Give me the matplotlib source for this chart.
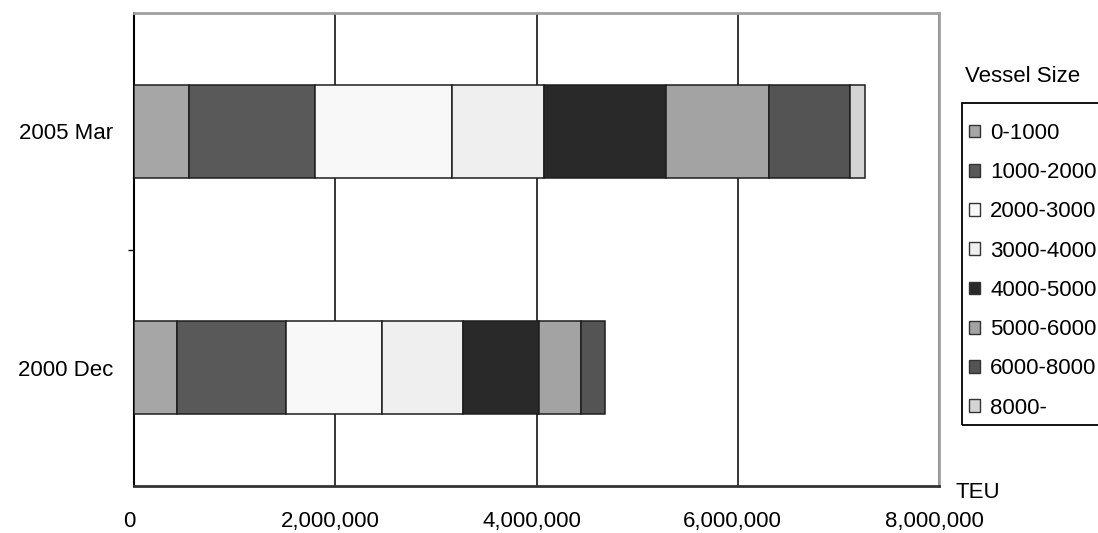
import numpy as np
import matplotlib
matplotlib.use("Agg")
import matplotlib.pyplot as plt
from matplotlib.patches import Patch, Rectangle
from matplotlib.transforms import ScaledTranslation

# TEU capacity by vessel size band
periods = ["2000 Dec", "2005 Mar"]
sizes = ["0-1000", "1000-2000", "2000-3000", "3000-4000",
         "4000-5000", "5000-6000", "6000-8000", "8000-"]
teu_2000 = [429000, 1084000, 954000, 805000, 749000, 417000, 242000, 0]
teu_2005 = [542000, 1259000, 1362000, 911000, 1209000, 1027000, 805000, 149000]
colors = ["#a6a6a6", "#595959", "#f8f8f8", "#efefef",
          "#292929", "#a3a3a3", "#545454", "#d4d4d4"]

plt.rcParams['font.family'] = ['Liberation Sans', 'DejaVu Sans']
FS = 16

W, H = 1098, 533
fig = plt.figure(figsize=(W / 100, H / 100), dpi=100)
ax = fig.add_axes([134 / W, 1 - 486 / H, (939 - 134) / W, (486 - 13) / H])

data = np.array([teu_2000, teu_2005])
left = np.zeros(len(periods))
for i, s in enumerate(sizes):
    vals = data[:, i]
    mask = vals > 0
    ax.barh(np.arange(len(periods))[mask], vals[mask], left=left[mask], height=0.395,
            color=colors[i], edgecolor="#1e1e1e", linewidth=1.1, zorder=3)
    left += vals

ax.set_xlim(0, 8000000)
ax.set_ylim(-0.5, 1.5)
ax.set_xticks([0, 2000000, 4000000, 6000000, 8000000])
ax.set_xticklabels(["0", "2,000,000", "4,000,000", "6,000,000", "8,000,000"], fontsize=FS)
ax.set_yticks([0, 1])
ax.set_yticklabels(periods, fontsize=FS)
ax.set_yticks([0.5], minor=True)
ax.tick_params(axis="y", which="major", length=0, pad=15)
ax.tick_params(axis="y", which="minor", length=4, width=1, color="black")
ax.tick_params(axis="x", length=0, pad=18)
shift = ScaledTranslation(-5 / 100, 0, fig.dpi_scale_trans)
for lbl in ax.get_xticklabels():
    lbl.set_transform(lbl.get_transform() + shift)
ax.xaxis.grid(True, color="black", linewidth=1.1, zorder=1)
ax.set_axisbelow(True)

ax.spines["left"].set_color("black")
ax.spines["left"].set_linewidth(1.5)
ax.spines["bottom"].set_color("#333333")
ax.spines["bottom"].set_linewidth(2)
ax.spines["top"].set_color("#a0a0a0")
ax.spines["top"].set_linewidth(2)
ax.spines["right"].set_color("#a0a0a0")
ax.spines["right"].set_linewidth(2)

fig.text(956 / W, 1 - 493 / H, "TEU", fontsize=FS, va="center", ha="left")
fig.text(965 / W, 1 - 77 / H, "Vessel Size", fontsize=FS, va="center", ha="left")

# legend frame (runs off the right edge like the original)
fig.patches.append(Rectangle((962 / W, 1 - 425 / H), 160 / W, 322 / H,
                             transform=fig.transFigure, facecolor="none",
                             edgecolor="black", linewidth=1.3))

handles = [Patch(facecolor=c, edgecolor="#333333", linewidth=1) for c in colors]
leg = fig.legend(handles, sizes, loc="upper left",
                 bbox_to_anchor=(961 / W, 1 - 115 / H), fontsize=FS,
                 handlelength=0.5, handleheight=0.5, handletextpad=0.45,
                 labelspacing=0.82, borderpad=0.36, frameon=False,
                 borderaxespad=0)

fig.savefig("out.png", dpi=100)
